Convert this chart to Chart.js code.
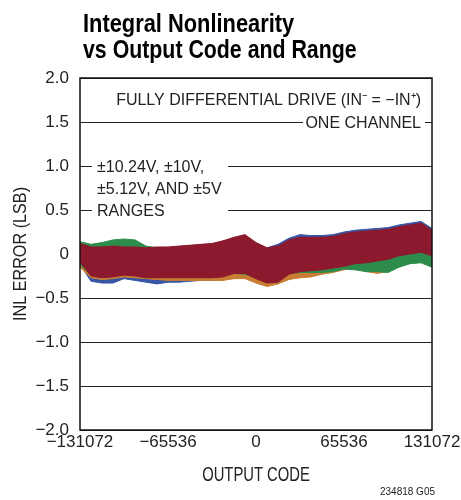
<!DOCTYPE html>
<html><head><meta charset="utf-8">
<script src="https://cdn.jsdelivr.net/npm/chart.js@4.4.0/dist/chart.umd.min.js"></script>
<style>html,body{margin:0;padding:0;background:#fff;}</style>
</head><body>
<canvas id="c" width="461" height="500"></canvas>
<script>
// ---- data ----
const codes = [-131072, -122880, -114688, -106496, -98304, -90112, -81920, -73728, -65536, -57344, -49152, -40960, -32768, -24576, -16384, -8192, 0, 8192, 16384, 24576, 32768, 40960, 49152, 57344, 65536, 73728, 81920, 90112, 98304, 106496, 114688, 122880, 131072];

const redHi    = [0.12, 0.08, 0.08, 0.09, 0.08, 0.08, 0.07, 0.08, 0.08, 0.09, 0.10, 0.11, 0.12, 0.15, 0.19, 0.22, 0.13, 0.07, 0.09, 0.16, 0.19, 0.19, 0.19, 0.20, 0.23, 0.25, 0.26, 0.27, 0.28, 0.31, 0.33, 0.35, 0.27];
const redLo    = [-0.09, -0.25, -0.27, -0.26, -0.24, -0.25, -0.27, -0.27, -0.27, -0.27, -0.27, -0.27, -0.27, -0.26, -0.22, -0.22, -0.28, -0.33, -0.32, -0.23, -0.20, -0.19, -0.18, -0.16, -0.14, -0.11, -0.10, -0.08, -0.06, -0.02, 0.00, 0.02, -0.02];
const greenHi  = [0.14, 0.11, 0.13, 0.16, 0.17, 0.16, 0.09, 0.07, 0.07, 0.07, 0.08, 0.09, 0.10, 0.12, 0.15, 0.17, 0.10, 0.05, 0.07, 0.12, 0.14, 0.14, 0.15, 0.16, 0.18, 0.20, 0.21, 0.22, 0.23, 0.25, 0.27, 0.28, 0.22];
const greenLo  = [-0.12, -0.24, -0.26, -0.25, -0.23, -0.24, -0.26, -0.26, -0.26, -0.26, -0.26, -0.26, -0.26, -0.25, -0.22, -0.23, -0.27, -0.30, -0.28, -0.22, -0.21, -0.21, -0.21, -0.20, -0.17, -0.18, -0.20, -0.20, -0.21, -0.15, -0.11, -0.10, -0.15];
const orangeHi = [0.09, 0.05, 0.05, 0.06, 0.05, 0.05, 0.04, 0.05, 0.05, 0.06, 0.07, 0.08, 0.09, 0.12, 0.16, 0.19, 0.10, 0.04, 0.06, 0.13, 0.16, 0.16, 0.16, 0.17, 0.20, 0.22, 0.23, 0.24, 0.25, 0.28, 0.30, 0.32, 0.24];
const orangeLo = [-0.15, -0.27, -0.29, -0.28, -0.26, -0.27, -0.28, -0.29, -0.30, -0.30, -0.30, -0.30, -0.30, -0.30, -0.28, -0.28, -0.33, -0.37, -0.34, -0.29, -0.27, -0.26, -0.23, -0.21, -0.18, -0.16, -0.20, -0.22, -0.20, -0.14, -0.10, -0.08, -0.12];
const blueHi   = [0.10, 0.07, 0.07, 0.08, 0.07, 0.07, 0.06, 0.07, 0.07, 0.08, 0.09, 0.10, 0.11, 0.14, 0.18, 0.21, 0.12, 0.07, 0.11, 0.18, 0.22, 0.21, 0.21, 0.22, 0.25, 0.27, 0.28, 0.29, 0.30, 0.33, 0.35, 0.37, 0.29];
const blueLo   = [-0.12, -0.31, -0.33, -0.33, -0.28, -0.30, -0.32, -0.34, -0.32, -0.32, -0.31, -0.30, -0.30, -0.29, -0.25, -0.25, -0.30, -0.34, -0.33, -0.25, -0.22, -0.21, -0.20, -0.18, -0.15, -0.13, -0.12, -0.10, -0.08, -0.04, -0.02, 0.00, -0.04];

const xTickValues = [-131072, -65536, 0, 65536, 131072];
const xTickLabels = ['\u2212131072', '\u221265536', '0', '65536', '131072'];
const yTickValues = [2, 1.5, 1, 0.5, 0, -0.5, -1, -1.5, -2];
const yTickLabels = ['2.0', '1.5', '1.0', '0.5', '0', '\u22120.5', '\u22121.0', '\u22121.5', '\u22122.0'];

const titleLines = ['Integral Nonlinearity', 'vs Output Code and Range'];
const xTitle = 'OUTPUT CODE';
const yTitle = 'INL ERROR (LSB)';
const noteTop = 'FULLY DIFFERENTIAL DRIVE (IN\u207B = \u2212IN\u207A)';
const noteTop2 = 'ONE CHANNEL';
const noteLeft = ['\u00B110.24V, \u00B110V,', '\u00B15.12V, AND \u00B15V', 'RANGES'];
const footnote = '234818 G05';

// ---- styling ----
const FONT = "'Liberation Sans', Arial, sans-serif";
const TXT = '#222';
Chart.defaults.font.family = FONT;
Chart.defaults.color = TXT;

const RED = 'rgb(140,25,45)', GREEN = 'rgb(45,140,75)', BLUE = 'rgb(55,85,165)', ORANGE = 'rgb(200,125,50)';

// horizontal condensing for the narrow-typeface texts
const condense = {};
condense[xTitle] = 0.74;
condense[yTitle] = 0.9;
condense[titleLines[0]] = 0.84;
condense[titleLines[1]] = 0.82;

function pts(arr) { return codes.map((c, i) => ({x: c, y: arr[i]})); }
function band(hi, lo, color) {
  return [
    {data: pts(hi), borderColor: color, backgroundColor: color, borderWidth: 1, pointRadius: 0, tension: 0, fill: '+1'},
    {data: pts(lo), borderColor: color, backgroundColor: color, borderWidth: 1, pointRadius: 0, tension: 0, fill: false}
  ];
}

const decor = {
  id: 'decor',
  beforeInit(chart) {
    const ctx = chart.ctx;
    const orig = ctx.fillText.bind(ctx);
    ctx.fillText = function (t, x, y, mw) {
      const k = condense[t];
      if (!k) { return mw === undefined ? orig(t, x, y) : orig(t, x, y, mw); }
      ctx.save();
      ctx.translate(x, y);
      ctx.scale(k, 1);
      if (mw === undefined) orig(t, 0, 0); else orig(t, 0, 0, mw / k);
      ctx.restore();
    };
  },
  beforeDatasetsDraw(chart) {
    const ctx = chart.ctx, y = chart.scales.y;
    ctx.save();
    ctx.fillStyle = '#fff';
    ctx.fillRect(303, y.getPixelForValue(1.5) - 3, 122, 6);
    ctx.fillRect(92, y.getPixelForValue(1.0) - 3, 136, 6);
    ctx.fillRect(92, y.getPixelForValue(0.5) - 3, 136, 6);
    ctx.fillStyle = TXT;
    ctx.font = '16px ' + FONT;
    ctx.textBaseline = 'alphabetic';
    ctx.textAlign = 'right';
    ctx.fillText(noteTop, 421, 105);
    ctx.fillText(noteTop2, 421, 128);
    ctx.textAlign = 'left';
    ctx.fillText(noteLeft[0], 97, 172);
    ctx.fillText(noteLeft[1], 97, 194);
    ctx.fillText(noteLeft[2], 97, 216);
    ctx.restore();
  },
  afterDraw(chart) {
    const ctx = chart.ctx, a = chart.chartArea;
    ctx.save();
    ctx.strokeStyle = '#111';
    ctx.lineWidth = 1.5;
    ctx.strokeRect(a.left, a.top, a.right - a.left, a.bottom - a.top);
    ctx.fillStyle = '#000';
    ctx.font = 'bold 26px ' + FONT;
    ctx.textAlign = 'left';
    ctx.textBaseline = 'alphabetic';
    ctx.fillText(titleLines[0], 83, 32);
    ctx.fillText(titleLines[1], 83, 58);
    ctx.fillStyle = TXT;
    ctx.font = '10px ' + FONT;
    ctx.textAlign = 'right';
    ctx.fillText(footnote, 435, 495);
    ctx.restore();
  }
};

new Chart(document.getElementById('c'), {
  type: 'line',
  data: {
    datasets: [
      ...band(redHi, redLo, RED),
      ...band(greenHi, greenLo, GREEN),
      ...band(orangeHi, orangeLo, ORANGE),
      ...band(blueHi, blueLo, BLUE)
    ]
  },
  options: {
    responsive: false,
    animation: false,
    layout: {padding: {top: 78, right: 29, bottom: 0, left: 0}},
    plugins: {legend: {display: false}, tooltip: {enabled: false}, title: {display: false}},
    scales: {
      x: {
        type: 'linear', min: -131072, max: 131072,
        afterBuildTicks(s) { s.ticks = xTickValues.map(v => ({value: v})); },
        afterFit(s) { s.height = 70; },
        ticks: {callback: (v) => xTickLabels[xTickValues.indexOf(v)], font: {size: 17}, color: TXT, padding: -6, maxRotation: 0, autoSkip: false},
        grid: {display: false},
        border: {display: false},
        title: {display: true, text: xTitle, font: {size: 20}, color: TXT, padding: {top: 0, bottom: 13}}
      },
      y: {
        min: -2, max: 2,
        afterBuildTicks(s) { s.ticks = yTickValues.map(v => ({value: v})); },
        afterFit(s) { s.width = 80; },
        ticks: {callback: (v) => yTickLabels[yTickValues.indexOf(v)], font: {size: 17}, color: TXT, padding: 11, autoSkip: false},
        grid: {color: '#222', lineWidth: 1, drawTicks: false},
        border: {display: false},
        title: {display: true, text: yTitle, font: {size: 18}, color: TXT, padding: {top: 10, bottom: 0}}
      }
    }
  },
  plugins: [decor]
});
</script>
</body></html>
